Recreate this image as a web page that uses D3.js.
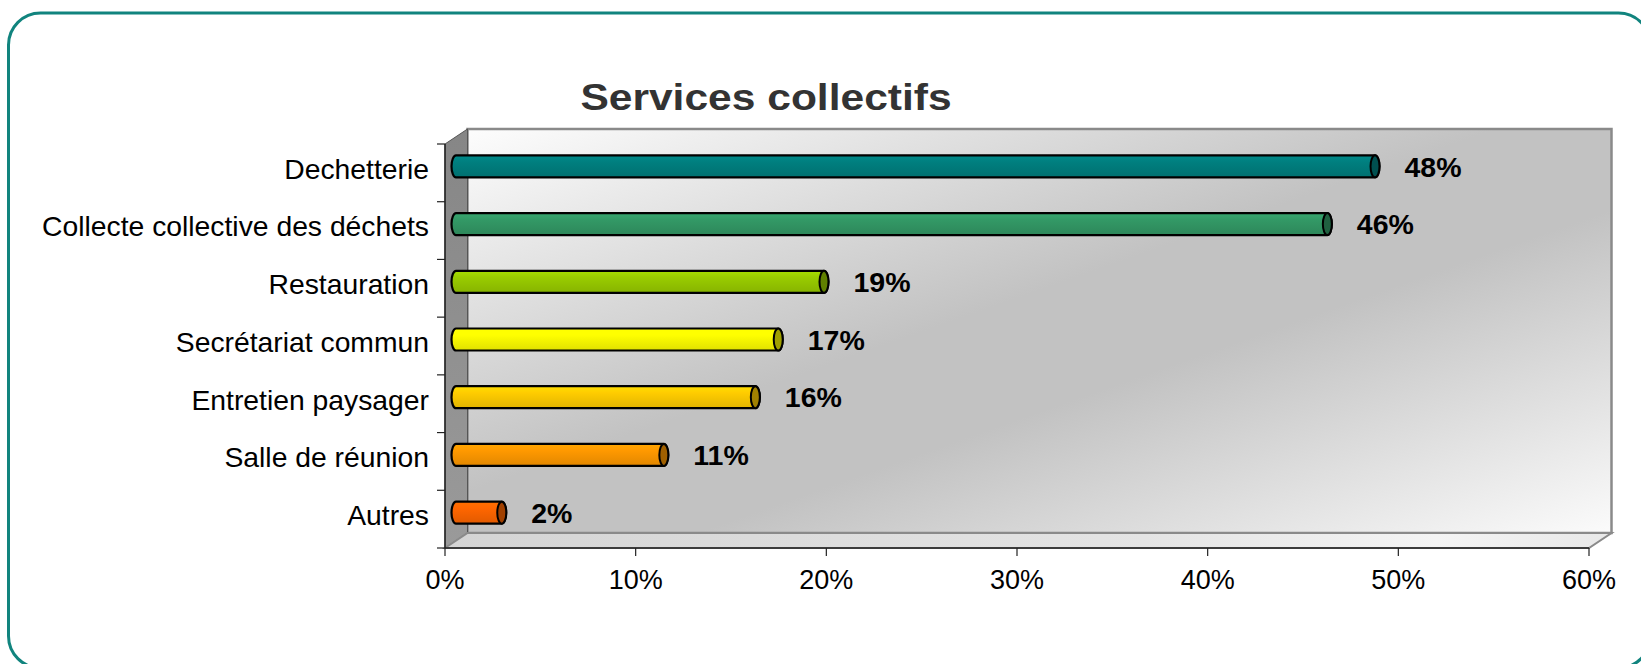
<!DOCTYPE html>
<html>
<head>
<meta charset="utf-8">
<script src="https://d3js.org/d3.v7.min.js"></script>
<style>
  html, body { margin: 0; padding: 0; background: #fff; }
  svg { display: block; font-family: "Liberation Sans", Arial, Helvetica, sans-serif; }
</style>
</head>
<body>
<svg id="chart" width="1641" height="664"></svg>
<script>
// --- data ---
const chartTitle = "Services collectifs";
const categories = [
  "Dechetterie",
  "Collecte collective des déchets",
  "Restauration",
  "Secrétariat commun",
  "Entretien paysager",
  "Salle de réunion",
  "Autres"
];
const values = [0.482, 0.457, 0.193, 0.169, 0.157, 0.109, 0.024];
const barColors = ["#007f7f", "#339966", "#99cc00", "#ffff00", "#ffcc00", "#ff9900", "#ff6600"];
const xTicks = [0, 0.1, 0.2, 0.3, 0.4, 0.5, 0.6];

// --- layout ---
const svg = d3.select("#chart");
const defs = svg.append("defs");

const front = { left: 445, right: 1589, top: 144, bottom: 548 };
const depth = { dx: 22.5, dy: -15 };
const barShift = { dx: 11, dy: -6.5 };
const barH = 22;
const capRx = 4.5;

const x = d3.scaleLinear().domain([0, 0.6]).range([front.left, front.right]);
const y = d3.scaleBand().domain(categories).range([front.top, front.bottom]).paddingInner(0);

// outer frame
svg.append("rect")
  .attr("x", 8.5).attr("y", 13)
  .attr("width", 1642).attr("height", 655)
  .attr("rx", 32).attr("ry", 32)
  .attr("fill", "#fff")
  .attr("stroke", "#11847e").attr("stroke-width", 3);

// gradients
const wallGrad = defs.append("linearGradient").attr("id", "wallGrad")
  .attr("x1", 0).attr("y1", 0).attr("x2", 1).attr("y2", 1);
wallGrad.append("stop").attr("offset", 0).attr("stop-color", "#fdfdfd");
wallGrad.append("stop").attr("offset", 0.45).attr("stop-color", "#c2c2c2");
wallGrad.append("stop").attr("offset", 0.6).attr("stop-color", "#c2c2c2");
wallGrad.append("stop").attr("offset", 1).attr("stop-color", "#fbfbfb");

const sideGrad = defs.append("linearGradient").attr("id", "sideGrad")
  .attr("x1", 0).attr("y1", 0).attr("x2", 0).attr("y2", 1);
sideGrad.append("stop").attr("offset", 0).attr("stop-color", "#868686");
sideGrad.append("stop").attr("offset", 1).attr("stop-color", "#9a9a9a");

const floorGrad = defs.append("linearGradient").attr("id", "floorGrad")
  .attr("x1", 0).attr("y1", 0).attr("x2", 1).attr("y2", 0);
floorGrad.append("stop").attr("offset", 0).attr("stop-color", "#d4d4d4");
floorGrad.append("stop").attr("offset", 0.6).attr("stop-color", "#e4e4e4");
floorGrad.append("stop").attr("offset", 0.85).attr("stop-color", "#f4f4f4");
floorGrad.append("stop").attr("offset", 1).attr("stop-color", "#e8e8e8");

// back wall
const bx0 = front.left + depth.dx, bx1 = front.right + depth.dx;
const by0 = front.top + depth.dy, by1 = front.bottom + depth.dy;
svg.append("rect")
  .attr("x", bx0).attr("y", by0)
  .attr("width", bx1 - bx0).attr("height", by1 - by0)
  .attr("fill", "url(#wallGrad)")
  .attr("stroke", "#8a8a8a").attr("stroke-width", 2.5);

// side wall
svg.append("path")
  .attr("d", `M${front.left},${front.top} L${bx0},${by0} L${bx0},${by1} L${front.left},${front.bottom} Z`)
  .attr("fill", "url(#sideGrad)")
  .attr("stroke", "#555").attr("stroke-width", 1);

// floor
svg.append("path")
  .attr("d", `M${front.left},${front.bottom} L${bx0},${by1} L${bx1},${by1} L${front.right},${front.bottom} Z`)
  .attr("fill", "url(#floorGrad)")
  .attr("stroke", "#8a8a8a").attr("stroke-width", 2);

// axes
const axisColor = "#222";
svg.append("line")
  .attr("x1", front.left).attr("x2", front.right)
  .attr("y1", front.bottom).attr("y2", front.bottom)
  .attr("stroke", axisColor).attr("stroke-width", 1.5);
svg.append("line")
  .attr("x1", front.left).attr("x2", front.left)
  .attr("y1", front.top).attr("y2", front.bottom)
  .attr("stroke", axisColor).attr("stroke-width", 1.5);

// x ticks
svg.selectAll(".xtick")
  .data(xTicks).enter().append("line")
  .attr("x1", d => x(d)).attr("x2", d => x(d))
  .attr("y1", front.bottom).attr("y2", front.bottom + 8)
  .attr("stroke", axisColor).attr("stroke-width", 1.2);

svg.selectAll(".xlabel")
  .data(xTicks).enter().append("text")
  .attr("x", d => x(d)).attr("y", 589)
  .attr("text-anchor", "middle")
  .attr("font-size", 27).attr("fill", "#000")
  .text(d3.format(".0%"));

// y ticks (band boundaries)
const yBounds = categories.map(c => y(c)).concat([front.bottom]);
svg.selectAll(".ytick")
  .data(yBounds).enter().append("line")
  .attr("x1", front.left - 8).attr("x2", front.left)
  .attr("y1", d => d).attr("y2", d => d)
  .attr("stroke", axisColor).attr("stroke-width", 1.2);

svg.selectAll(".ylabel")
  .data(categories).enter().append("text")
  .attr("x", 429)
  .attr("y", d => y(d) + y.bandwidth() / 2 - 4)
  .attr("dy", "0.35em")
  .attr("text-anchor", "end")
  .attr("font-size", 28.3).attr("fill", "#000")
  .text(d => d);

// bars
const rows = categories.map((c, i) => ({ cat: c, value: values[i], color: barColors[i], i }));

rows.forEach(r => {
  const base = d3.color(r.color);
  const g = defs.append("linearGradient").attr("id", "barGrad" + r.i)
    .attr("x1", 0).attr("y1", 0).attr("x2", 0).attr("y2", 1);
  g.append("stop").attr("offset", 0).attr("stop-color", base.brighter(0.25).formatHex());
  g.append("stop").attr("offset", 0.3).attr("stop-color", base.formatHex());
  g.append("stop").attr("offset", 1).attr("stop-color", base.darker(0.35).formatHex());
});

const bars = svg.append("g").selectAll("g")
  .data(rows).enter().append("g");

bars.append("path")
  .attr("d", d => {
    const cy = y(d.cat) + y.bandwidth() / 2 + barShift.dy;
    const top = cy - barH / 2, bot = cy + barH / 2;
    const x0 = x(0) + barShift.dx, x1 = x(d.value) + barShift.dx;
    return `M${x0},${top} L${x1},${top} A${capRx},${barH / 2} 0 0 1 ${x1},${bot} L${x0},${bot} A${capRx},${barH / 2} 0 0 1 ${x0},${top} Z`;
  })
  .attr("fill", d => `url(#barGrad${d.i})`)
  .attr("stroke", "#000").attr("stroke-width", 2.2);

bars.append("ellipse")
  .attr("cx", d => x(d.value) + barShift.dx)
  .attr("cy", d => y(d.cat) + y.bandwidth() / 2 + barShift.dy)
  .attr("rx", capRx).attr("ry", barH / 2)
  .attr("fill", d => d3.color(d.color).darker(1.3).formatHex())
  .attr("stroke", "#000").attr("stroke-width", 2);

bars.append("text")
  .attr("x", d => x(d.value) + barShift.dx + capRx + 25)
  .attr("y", d => y(d.cat) + y.bandwidth() / 2 + barShift.dy)
  .attr("dy", "0.36em")
  .attr("font-size", 28.5).attr("font-weight", "bold").attr("fill", "#000")
  .text(d => d3.format(".0%")(d.value));

// title
svg.append("text")
  .attr("transform", "translate(766,110) scale(1.15,1)")
  .attr("text-anchor", "middle")
  .attr("font-size", 37).attr("font-weight", "bold").attr("fill", "#333")
  .text(chartTitle);
</script>
</body>
</html>
